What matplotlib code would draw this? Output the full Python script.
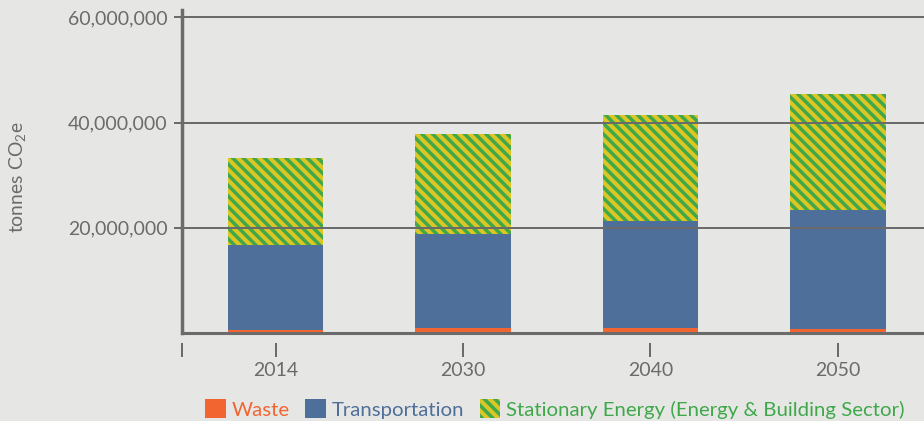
import numpy as np
import matplotlib
matplotlib.use("Agg")
import matplotlib.pyplot as plt
from matplotlib.patches import Patch
from matplotlib.ticker import FuncFormatter

# data (tonnes CO2e)
years = ["2014", "2030", "2040", "2050"]
waste = [0.5e6, 1.0e6, 1.0e6, 0.75e6]
transport = [16.3e6, 17.9e6, 20.3e6, 22.65e6]
stationary = [16.5e6, 18.9e6, 20.2e6, 22.0e6]
yticks = [20e6, 40e6, 60e6]

c_waste = "#f26531"
c_trans = "#4e6f9a"
c_yellow = "#dcc624"
c_green = "#3fa84a"
c_grey = "#6b6b6b"
bg = "#e6e7e5"

plt.rcParams['font.family'] = ['Lato', 'DejaVu Sans']
plt.rcParams['mathtext.fontset'] = 'custom'
plt.rcParams['mathtext.rm'] = 'Lato'
plt.rcParams['hatch.linewidth'] = 2.6

dpi = 96
fig = plt.figure(figsize=(924/dpi, 421/dpi), dpi=dpi, facecolor=bg)
ax = fig.add_axes([182/924, 1-333/421, 1-182/924, (333-10)/421])
ax.set_facecolor(bg)

x = np.arange(len(years))
w = 0.51
b1 = np.array(waste)
b2 = b1 + np.array(transport)
ax.bar(x, waste, w, color=c_waste, linewidth=0, zorder=2)
ax.bar(x, transport, w, bottom=b1, color=c_trans, linewidth=0, zorder=2)
ax.bar(x, stationary, w, bottom=b2, facecolor=c_yellow, edgecolor=c_green,
       hatch='\\\\\\', linewidth=0, zorder=2)

ax.set_xlim(-0.5, 3.46)
ax.set_ylim(0, 61.4e6)

# grid on top of the bars
for v in yticks:
    ax.axhline(v, color=c_grey, lw=1.5, zorder=3)
ax.axhline(0, color=c_grey, lw=2.3, zorder=4, clip_on=False)

for s in ['top', 'right', 'bottom']:
    ax.spines[s].set_visible(False)
ax.spines['left'].set_color(c_grey)
ax.spines['left'].set_linewidth(2.6)
ax.spines['left'].set_zorder(5)
ax.spines['bottom'].set_position(('outward', 7.5))

ax.set_yticks(yticks)
ax.yaxis.set_major_formatter(FuncFormatter(lambda v, p: f"{int(v):,}"))
ax.tick_params(axis='y', length=6, width=1.5, color=c_grey, labelcolor=c_grey,
               labelsize=14.6, pad=5)
ax.set_xticks([-0.5] + list(x))
ax.set_xticklabels([""] + years)
ax.tick_params(axis='x', length=10.5, width=1.5, color=c_grey, labelcolor=c_grey,
               labelsize=14.6, pad=4)

fig.text(18/924, 1-177/421, "tonnes CO$_2$e", rotation=90, ha='center',
         va='center', color=c_grey, fontsize=14.5)

handles = [Patch(facecolor=c_waste, linewidth=0),
           Patch(facecolor=c_trans, linewidth=0),
           Patch(facecolor=c_yellow, edgecolor=c_green, hatch='\\\\\\', linewidth=0)]
labels = ["Waste", "Transportation", "Stationary Energy (Energy & Building Sector)"]
fig.legend(handles, labels, loc='center', bbox_to_anchor=(555/924, 1-409/421),
           ncol=3, frameon=False, fontsize=15.3, handlelength=1.0, handleheight=1.0,
           handletextpad=0.3, columnspacing=0.75,
           labelcolor=[c_waste, c_trans, c_green])

fig.savefig("out.png", dpi=dpi, facecolor=bg)
